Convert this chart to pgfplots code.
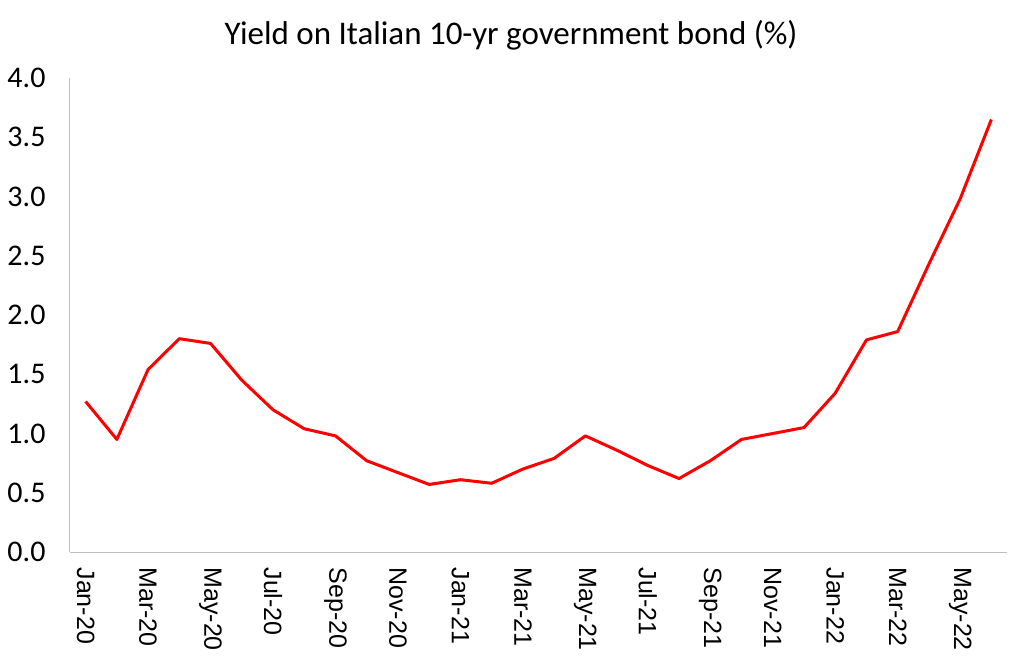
\documentclass[border=0pt]{standalone}
\usepackage{pgfplots}
\pgfplotsset{compat=1.18}
\usepackage{fontspec}
\setmainfont{Carlito}
\newfontfamily\arialf{Liberation Sans}
\begin{document}
\begin{tikzpicture}[x=1pt,y=1pt]
\path[use as bounding box] (0,0) rectangle (1023,667);
\begin{axis}[
  at={(70pt,115pt)}, anchor=south west,
  scale only axis, width=937pt, height=474pt,
  xmin=-0.5, xmax=29.5, ymin=0, ymax=4,
  axis lines*=left,
  axis line style={draw=black!25, line width=1pt},
  tick style={draw=none},
  ytick={0,0.5,...,4},
  yticklabel style={font=\fontsize{30}{36}\selectfont, /pgf/number format/fixed, /pgf/number format/fixed zerofill, /pgf/number format/precision=1},
  /pgf/number format/assume math mode=true,
  yticklabel style={xshift=-21pt},
  xtick={0,2,...,28},
  xticklabels={Jan-20,Mar-20,May-20,Jul-20,Sep-20,Nov-20,Jan-21,Mar-21,May-21,Jul-21,Sep-21,Nov-21,Jan-22,Mar-22,May-22},
  xticklabel style={font=\arialf\fontsize{25}{30}\selectfont, rotate=-90, anchor=west, xshift=12pt},
  clip=false,
]
\addplot[red, line width=3pt, line join=round] coordinates {
(0,1.27) (1,0.95) (2,1.54) (3,1.80) (4,1.76) (5,1.45) (6,1.20) (7,1.04) (8,0.98) (9,0.77)
(10,0.67) (11,0.57) (12,0.61) (13,0.58) (14,0.70) (15,0.79) (16,0.98) (17,0.86) (18,0.73) (19,0.62)
(20,0.77) (21,0.95) (22,1.00) (23,1.05) (24,1.34) (25,1.79) (26,1.86) (27,2.43) (28,2.98) (29,3.65)
};
\end{axis}
\node at (511,632) {\fontsize{33}{40}\selectfont Yield on Italian 10-yr government bond (\%)};
\end{tikzpicture}
\end{document}
